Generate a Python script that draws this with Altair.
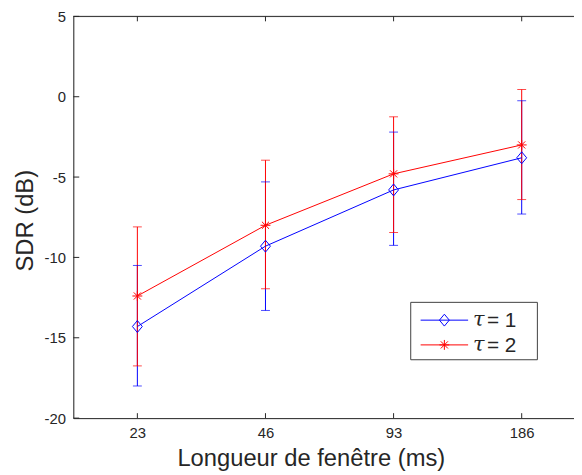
import json
import altair as alt
import pandas as pd

# ---- data ----
windows = ["23", "46", "93", "186"]          # window length (ms)
positions = [1, 2, 3, 4]                      # equally spaced categories
series_labels = ["τ = 1", "τ = 2"]
tau1_mean = [-14.3, -9.3, -5.8, -3.8]
tau1_low = [-18.0, -13.3, -9.25, -7.3]
tau1_high = [-10.5, -5.3, -2.2, -0.25]
tau2_mean = [-12.4, -8.0, -4.8, -3.0]
tau2_low = [-16.75, -11.95, -8.45, -6.4]
tau2_high = [-8.1, -3.95, -1.25, 0.45]
y_ticks = [5, 0, -5, -10, -15, -20]

# ---- layout ----
W, H = 506, 406
X_DOMAIN = [0.5, 0.5 + W / 129.47]
Y_DOMAIN = [-20, 5]
AX = "#262626"
BLUE = "#0000FF"
RED = "#FF0000"
FONT = "Liberation Sans"

rows = []
for lab, m, lo, hi in [(series_labels[0], tau1_mean, tau1_low, tau1_high),
                       (series_labels[1], tau2_mean, tau2_low, tau2_high)]:
    for p, mm, l, h in zip(positions, m, lo, hi):
        rows.append({"idx": p, "series": lab, "mean": mm, "low": l, "high": h})
df = pd.DataFrame(rows)

xscale = alt.Scale(domain=X_DOMAIN, nice=False, zero=False)
yscale = alt.Scale(domain=Y_DOMAIN, nice=False, zero=False)
cscale = alt.Scale(domain=series_labels, range=[BLUE, RED])
diamond = "M0,-1.2L1,0L0,1.2L-1,0Z"
asterisk = "M-1,0L1,0M0,-1L0,1M-0.72,-0.72L0.72,0.72M-0.72,0.72L0.72,-0.72"
sscale = alt.Scale(domain=series_labels, range=[diamond, asterisk])

xaxis = alt.Axis(values=positions,
                 labelExpr=json.dumps(windows) + "[datum.value - 1]",
                 title="Longueur de fenêtre (ms)", grid=False, ticks=False, tickSize=0,
                 domainColor=AX, labelColor=AX, titleColor=AX, labelFont=FONT,
                 titleFont=FONT, labelFontSize=15, titleFontSize=24,
                 titleFontWeight="normal", labelPadding=8,
                 titleX=240, titleY=48, titleBaseline="alphabetic",
                 titleAnchor="start", titleAlign="center")
yaxis = alt.Axis(values=y_ticks, labelExpr="'' + datum.value",
                 title="SDR (dB)", grid=False, ticks=False, tickSize=0,
                 domainColor=AX, labelColor=AX, titleColor=AX, labelFont=FONT,
                 titleFont=FONT, labelFontSize=15, titleFontSize=24,
                 titleFontWeight="normal", labelPadding=8,
                 titleX=-41, titleY=206, titleAngle=-90,
                 titleBaseline="alphabetic", titleAlign="center")

base = alt.Chart(df)

err_rules = []
err_caps = []
for lab in series_labels:
    sub = base.transform_filter(alt.datum.series == lab)
    err_rules.append(sub.mark_rule(strokeWidth=1).encode(
        x=alt.X("idx:Q", scale=xscale, axis=xaxis),
        y=alt.Y("low:Q", scale=yscale, axis=yaxis),
        y2="high:Q",
        color=alt.Color("series:N", scale=cscale, legend=None)))
    for fld in ["low", "high"]:
        err_caps.append(sub.mark_tick(orient="horizontal", size=9, thickness=1).encode(
            x=alt.X("idx:Q", scale=xscale),
            y=alt.Y(f"{fld}:Q", scale=yscale),
            color=alt.Color("series:N", scale=cscale, legend=None)))

lines = base.mark_line(strokeWidth=1).encode(
    x=alt.X("idx:Q", scale=xscale),
    y=alt.Y("mean:Q", scale=yscale),
    color=alt.Color("series:N", scale=cscale, legend=None),
    detail="series:N")

points = base.mark_point(filled=False, strokeWidth=1, size=100, opacity=1).encode(
    x=alt.X("idx:Q", scale=xscale),
    y=alt.Y("mean:Q", scale=yscale),
    color=alt.Color("series:N", scale=cscale, legend=None),
    shape=alt.Shape("series:N", scale=sscale, legend=None))

# inward ticks (MATLAB style) and top frame line
xt = pd.DataFrame({"idx": positions})
yt = pd.DataFrame({"v": y_ticks})
xticks_bottom = alt.Chart(xt).mark_rule(color=AX, strokeWidth=1).encode(
    x=alt.X("idx:Q", scale=xscale), y=alt.value(H), y2=alt.value(H - 5))
xticks_top = alt.Chart(xt).mark_rule(color=AX, strokeWidth=1).encode(
    x=alt.X("idx:Q", scale=xscale), y=alt.value(0), y2=alt.value(5))
yticks = alt.Chart(yt).mark_rule(color=AX, strokeWidth=1).encode(
    y=alt.Y("v:Q", scale=yscale), x=alt.value(0), x2=alt.value(6))
one = pd.DataFrame({"k": [0]})
top_line = alt.Chart(one).mark_rule(color=AX, strokeWidth=1).encode(
    x=alt.value(0), x2=alt.value(W), y=alt.value(0))

# legend box
LX0, LX1, LY0, LY1 = 341, 469, 289, 347
legend_box = alt.Chart(one).mark_rect(fill="white", stroke="#404040", strokeWidth=1).encode(
    x=alt.value(LX0), x2=alt.value(LX1), y=alt.value(LY0), y2=alt.value(LY1))
legend_layers = [legend_box]
for lab, col, shp, yy in [(series_labels[0], BLUE, diamond, 307),
                          (series_labels[1], RED, asterisk, 332)]:
    d = pd.DataFrame({"label": [lab]})
    c = alt.Chart(d)
    legend_layers.append(c.mark_rule(color=col, strokeWidth=1).encode(
        x=alt.value(351), x2=alt.value(399), y=alt.value(yy)))
    legend_layers.append(c.mark_point(shape=shp, filled=False, color=col, strokeWidth=1,
                                      size=100, opacity=1).encode(
        x=alt.value(375), y=alt.value(yy)))
    legend_layers.append(c.mark_text(font="DejaVu Serif", fontStyle="italic", fontSize=21,
                                     align="left", baseline="middle", color=AX).encode(
        x=alt.value(404), y=alt.value(yy), text=alt.value("τ")))
    legend_layers.append(c.mark_text(font=FONT, fontSize=21, align="left",
                                     baseline="middle", color=AX).encode(
        x=alt.value(418), y=alt.value(yy + 1), text=alt.value(lab.split("τ ")[1])))

chart = alt.layer(
    *err_rules, *err_caps, lines, points,
    xticks_bottom, xticks_top, yticks, top_line,
    *legend_layers
).properties(
    width=W, height=H,
    padding={"left": 66, "top": 6, "right": 0, "bottom": 53},
    autosize=alt.AutoSizeParams(type="none"),
).configure_view(stroke=None).configure(background="white")

chart.save("out.html", embed_options={"renderer": "svg", "actions": False})
